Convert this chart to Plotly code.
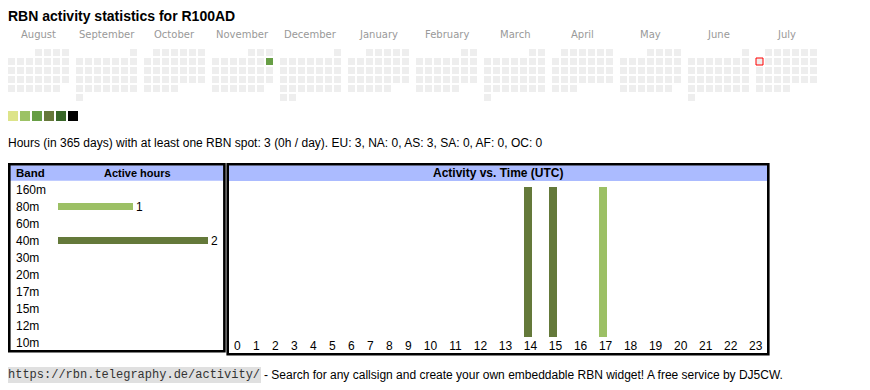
import datetime as dt
import plotly.graph_objects as go

# ---------------- data ----------------
title = "RBN activity statistics for R100AD"
months = ["August", "September", "October", "November", "December", "January",
          "February", "March", "April", "May", "June", "July"]
start_date = "2024-08-01"
end_date = "2025-07-31"
today = "2025-07-07"
active_days = ["2024-11-10"]
active_day_levels = [3]
level_colors = ["#dde48a", "#9cc265", "#679e45", "#66783a", "#386628", "#000000"]
empty_color = "#eeeeee"

stats_text = ("Hours (in 365 days) with at least one RBN spot: 3 (0h / day). "
              "EU: 3, NA: 0, AS: 3, SA: 0, AF: 0, OC: 0")

bands = ["160m", "80m", "60m", "40m", "30m", "20m", "17m", "15m", "12m", "10m"]
band_hours = [0, 1, 0, 2, 0, 0, 0, 0, 0, 0]
band_colors = ["#7cb5ec", "#9cc065", "#f7a35c", "#64793a", "#8085e9",
               "#f15c80", "#e4d354", "#2b908f", "#f45b5b", "#91e8e1"]

hour_labels = [str(h) for h in range(24)]
hours_40m = [0, 0, 0, 0, 0, 0, 0, 0, 0, 0, 0, 0, 0, 0, 1, 1, 0, 0, 0, 0, 0, 0, 0, 0]
hours_80m = [0, 0, 0, 0, 0, 0, 0, 0, 0, 0, 0, 0, 0, 0, 0, 0, 0, 1, 0, 0, 0, 0, 0, 0]

footer_url = "https://rbn.telegraphy.de/activity/"
footer_text = "- Search for any callsign and create your own embeddable RBN widget! A free service by DJ5CW."

# ---------------- layout helpers ----------------
FONT = "Liberation Sans, Arial, sans-serif"
PAGE_W, PAGE_H = 870, 390
OFF = 8                      # default page margin around the plot div
W, H = PAGE_W - OFF, PAGE_H - OFF


def X(p):
    return (p - OFF) / W


def Y(p):
    return 1 - (p - OFF) / H


CELL = 9          # cell pitch (px)
MONTH = 68        # month block pitch (px)
CX0, CY0 = 11.5, 52.5

# calendar cells
d0 = dt.date.fromisoformat(start_date)
d1 = dt.date.fromisoformat(end_date)
lvl = dict(zip(active_days, active_day_levels))
cx, cy, cc, ctext = [], [], [], []
tx, ty = [], []
d = d0
while d <= d1:
    m = (d.year - d0.year) * 12 + d.month - d0.month
    first_wd = d.replace(day=1).weekday()
    row = (d.day - 1 + first_wd) // 7
    xu = m * MONTH / CELL + d.weekday()
    cx.append(xu)
    cy.append(row)
    key = d.isoformat()
    cc.append(level_colors[lvl[key] - 1] if key in lvl else empty_color)
    ctext.append(key)
    if key == today:
        tx.append(xu)
        ty.append(row)
    d += dt.timedelta(days=1)

fig = go.Figure()

fig.add_trace(go.Scatter(
    x=cx, y=cy, mode="markers", text=ctext, hoverinfo="text",
    marker=dict(symbol="square", size=7, color=cc, line=dict(width=0)),
    xaxis="x", yaxis="y", showlegend=False))
fig.add_trace(go.Scatter(
    x=tx, y=ty, mode="markers", hoverinfo="skip",
    marker=dict(symbol="square-open", size=7, color="#ff0000",
                line=dict(width=1, color="#ff0000")),
    xaxis="x", yaxis="y", showlegend=False))

# legend swatches
fig.add_trace(go.Scatter(
    x=list(range(len(level_colors))), y=[0] * len(level_colors), mode="markers",
    marker=dict(symbol="square", size=10, color=level_colors, line=dict(width=0)),
    xaxis="x4", yaxis="y4", showlegend=False, hoverinfo="skip"))

# band bars
fig.add_trace(go.Bar(
    x=band_hours, y=list(range(len(bands))), orientation="h",
    marker=dict(color=band_colors, line=dict(width=0)), width=0.41,
    text=[str(v) if v else "" for v in band_hours], textposition="outside",
    constraintext="none",
    textfont=dict(family=FONT, size=12, color="#000"), cliponaxis=False,
    xaxis="x2", yaxis="y2", showlegend=False))

# hour bars
col_w = [13 + 6 * len(s) for s in hour_labels]
centers = []
acc = 0
for w in col_w:
    centers.append(acc + w / 2)
    acc += w
total_w = acc

fig.add_trace(go.Bar(
    x=centers, y=hours_40m, width=8, offset=-6.7,
    marker=dict(color=band_colors[3], line=dict(width=0)),
    xaxis="x3", yaxis="y3", showlegend=False, name="40m"))
fig.add_trace(go.Bar(
    x=centers, y=hours_80m, width=8, offset=-6.7,
    marker=dict(color=band_colors[1], line=dict(width=0)),
    xaxis="x3", yaxis="y3", showlegend=False, name="80m"))

hmax = max(a + b for a, b in zip(hours_40m, hours_80m))

hidden = dict(visible=False, showgrid=False, zeroline=False, fixedrange=True)

fig.update_layout(
    width=W, height=H, margin=dict(l=0, r=0, t=0, b=0),
    paper_bgcolor="white", plot_bgcolor="rgba(0,0,0,0)",
    barmode="stack", bargap=0,
    font=dict(family=FONT, size=12, color="#000"),
    xaxis=dict(domain=[0, 1], range=[(OFF - CX0) / CELL, (PAGE_W - CX0) / CELL], **hidden),
    yaxis=dict(domain=[0, 1], range=[(PAGE_H - CY0) / CELL, (OFF - CY0) / CELL], **hidden),
    xaxis4=dict(domain=[0, 1], range=[(OFF - 13) / 12, (PAGE_W - 13) / 12], anchor="y4", **hidden),
    yaxis4=dict(domain=[Y(126), Y(106)], range=[-1, 1], anchor="x4", **hidden),
    xaxis2=dict(domain=[X(58), X(208)], range=[0, max(band_hours)], anchor="y2", **hidden),
    yaxis2=dict(domain=[Y(351.2), Y(181.2)], range=[len(bands) - 0.5, -0.5], anchor="x2", **hidden),
    xaxis3=dict(domain=[X(227.8), X(768.2)], range=[0, total_w], anchor="y3",
                showgrid=False, zeroline=False, showline=False, ticks="",
                tickmode="array", tickvals=centers, ticktext=hour_labels,
                tickfont=dict(family=FONT, size=12, color="#000"), fixedrange=True),
    yaxis3=dict(domain=[Y(337), Y(187)], range=[0, hmax], anchor="x3", **hidden),
)

shapes = [
    dict(type="rect", xref="paper", yref="paper", x0=X(10), x1=X(223.5), y0=Y(180.7), y1=Y(165.3),
         fillcolor="#abbbff", line=dict(width=0), layer="below"),
    dict(type="rect", xref="paper", yref="paper", x0=X(229), x1=X(767), y0=Y(181), y1=Y(165.3),
         fillcolor="#abbbff", line=dict(width=0), layer="below"),
    dict(type="rect", xref="paper", yref="paper", x0=X(9.3), x1=X(224.4), y0=Y(351.3), y1=Y(164.3),
         line=dict(width=2.6, color="#000")),
    dict(type="rect", xref="paper", yref="paper", x0=X(227.7), x1=X(768.3), y0=Y(354.3), y1=Y(164.3),
         line=dict(width=2.6, color="#000")),
]
fig.update_layout(shapes=shapes)

ann = [
    dict(text="<b>" + title + "</b>", x=X(8), y=Y(15.7), xanchor="left", yanchor="middle",
         font=dict(family=FONT, size=14, color="#000")),
    dict(text=stats_text, x=X(8), y=Y(143), xanchor="left", yanchor="middle",
         font=dict(family=FONT, size=12, color="#000")),
    dict(text="<b>Band</b>", x=X(16), y=Y(173), xanchor="left", yanchor="middle",
         font=dict(family=FONT, size=11.5, color="#000")),
    dict(text="<b>Active hours</b>", x=X(137.7), y=Y(173), xanchor="center", yanchor="middle",
         font=dict(family=FONT, size=11, color="#000")),
    dict(text="<b>Activity vs. Time (UTC)</b>", x=X(498), y=Y(173), xanchor="center", yanchor="middle",
         font=dict(family=FONT, size=12, color="#000")),
    dict(text=footer_url, x=X(7), y=Y(374.5), xanchor="left", yanchor="middle",
         bgcolor="#e0e0e0", borderpad=1,
         font=dict(family="Liberation Mono, Courier New, monospace", size=12, color="#333")),
    dict(text=footer_text, x=X(264), y=Y(374.5), xanchor="left", yanchor="middle",
         font=dict(family=FONT, size=12, color="#000")),
]
for i, mname in enumerate(months):
    ann.append(dict(text=mname, xref="x", yref="paper", x=i * MONTH / CELL + 3, y=Y(35),
                    xanchor="center", yanchor="middle",
                    font=dict(family="DejaVu Sans, Verdana, sans-serif", size=10, color="#999")))
for i, b in enumerate(bands):
    ann.append(dict(text=b, xref="paper", yref="y2", x=X(16), y=i, xanchor="left", yanchor="middle",
                    font=dict(family=FONT, size=12, color="#000")))
for a in ann:
    a.setdefault("xref", "paper")
    a.setdefault("yref", "paper")
    a.setdefault("borderpad", 0)
    a["borderwidth"] = 0
    a["showarrow"] = False
fig.update_layout(annotations=ann)

fig.write_html("out.html")
